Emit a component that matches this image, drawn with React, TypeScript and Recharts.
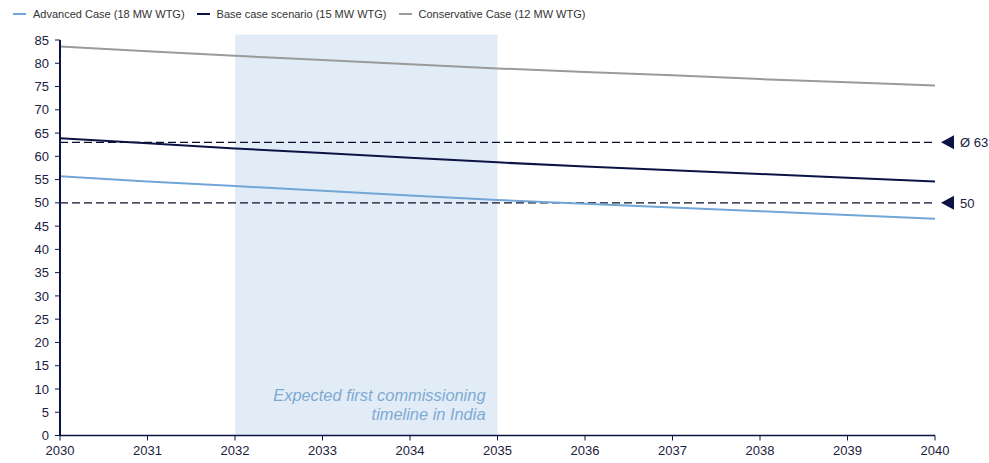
import React from "react";
import {
  LineChart,
  Line,
  XAxis,
  YAxis,
  ReferenceLine,
  ReferenceArea,
  Legend,
} from "recharts";

// Yearly values, 2030–2040
const years = [2030, 2031, 2032, 2033, 2034, 2035, 2036, 2037, 2038, 2039, 2040];
const advancedCase = [55.7, 54.6, 53.6, 52.6, 51.6, 50.6, 49.8, 49.0, 48.2, 47.4, 46.6];
const baseCase = [63.9, 62.8, 61.7, 60.7, 59.7, 58.7, 57.8, 57.0, 56.2, 55.4, 54.6];
const conservativeCase = [83.6, 82.6, 81.6, 80.7, 79.8, 78.9, 78.1, 77.4, 76.6, 75.9, 75.2];

const yTicks = [0, 5, 10, 15, 20, 25, 30, 35, 40, 45, 50, 55, 60, 65, 70, 75, 80, 85];

const averageLevel = 63;
const targetLevel = 50;
const commissioningStart = 2032;
const commissioningEnd = 2035;
const commissioningTop = 86.2;

const seriesNames = [
  "Advanced Case (18 MW WTG)",
  "Base case scenario (15 MW WTG)",
  "Conservative Case (12 MW WTG)",
];

const NAVY = "#0b1444";
const LIGHT_BLUE = "#72a6d6";
const GREY = "#9a9a9a";
const FONT = "'Liberation Sans', Arial, Helvetica, sans-serif";

const data = years.map((year, i) => ({
  year,
  advanced: advancedCase[i],
  base: baseCase[i],
  conservative: conservativeCase[i],
}));

const EndMarker = (props: any) => {
  const { viewBox, text } = props;
  const x = viewBox.x + viewBox.width;
  const y = viewBox.y;
  return (
    <g>
      <polygon
        points={`${x + 6},${y} ${x + 19},${y - 7} ${x + 19},${y + 7}`}
        fill={NAVY}
      />
      <text
        x={x + 25}
        y={y}
        dy={4.7}
        fontSize={13}
        fontFamily={FONT}
        fill="#1b2140"
      >
        {text}
      </text>
    </g>
  );
};

const AreaNote = (props: any) => {
  const { viewBox } = props;
  const right = viewBox.x + viewBox.width - 12;
  const bottom = viewBox.y + viewBox.height;
  return (
    <g
      fontFamily={FONT}
      fontSize={16.4}
      fontStyle="italic"
      fill="#7eaad3"
      textAnchor="end"
    >
      <text x={right} y={bottom - 35}>
        Expected first commissioning
      </text>
      <text x={right} y={bottom - 16}>
        timeline in India
      </text>
    </g>
  );
};

const LegendContent = (props: any) => {
  const { payload } = props;
  return (
    <div
      style={{
        display: "flex",
        alignItems: "center",
        height: 28,
        paddingLeft: 13,
        fontFamily: FONT,
        fontSize: 11,
        color: "#333",
      }}
    >
      {(payload || []).map((entry: any, i: number) => (
        <div
          key={i}
          style={{ display: "flex", alignItems: "center", marginRight: 12 }}
        >
          <span
            style={{
              display: "inline-block",
              width: 13,
              height: 2,
              background: entry.color,
              marginRight: 7,
            }}
          />
          <span>{entry.value}</span>
        </div>
      ))}
    </div>
  );
};

export default function App() {
  return (
    <div style={{ position: "absolute", left: 0, top: 0, background: "#fff" }}>
      <LineChart
        width={989}
        height={463}
        data={data}
        margin={{ top: 12, right: 54, bottom: 0, left: 0 }}
      >
        <Legend
          verticalAlign="top"
          align="left"
          content={<LegendContent />}
          wrapperStyle={{ left: 0, top: 0, width: 989, height: 28 }}
        />
        <ReferenceArea
          x1={commissioningStart}
          x2={commissioningEnd}
          y1={0}
          y2={commissioningTop}
          fill="#e2ecf6"
          fillOpacity={1}
          stroke="none"
          ifOverflow="visible"
          label={<AreaNote />}
        />
        <XAxis
          dataKey="year"
          type="number"
          domain={[2030, 2040]}
          ticks={years}
          height={27.5}
          tickSize={5}
          tickMargin={5}
          axisLine={{ stroke: NAVY, strokeWidth: 1.5 }}
          tickLine={{ stroke: NAVY }}
          tick={{ fontSize: 13, fill: "#1b2140", fontFamily: FONT }}
        />
        <YAxis
          type="number"
          domain={[0, 85]}
          ticks={yTicks}
          width={60}
          tickSize={5}
          tickMargin={6}
          interval={0}
          axisLine={{ stroke: NAVY, strokeWidth: 2 }}
          tickLine={{ stroke: NAVY }}
          tick={{ fontSize: 13, fill: "#1b2140", fontFamily: FONT }}
        />
        <ReferenceLine
          y={averageLevel}
          stroke="#0a0f2e"
          strokeWidth={1.2}
          strokeDasharray="8 4"
          label={<EndMarker text={`Ø ${averageLevel}`} />}
        />
        <ReferenceLine
          y={targetLevel}
          stroke="#0a0f2e"
          strokeWidth={1.2}
          strokeDasharray="8 4"
          label={<EndMarker text={`${targetLevel}`} />}
        />
        <Line
          type="linear"
          dataKey="advanced"
          name={seriesNames[0]}
          stroke={LIGHT_BLUE}
          strokeWidth={2}
          dot={false}
          isAnimationActive={false}
        />
        <Line
          type="linear"
          dataKey="base"
          name={seriesNames[1]}
          stroke={NAVY}
          strokeWidth={2}
          dot={false}
          isAnimationActive={false}
        />
        <Line
          type="linear"
          dataKey="conservative"
          name={seriesNames[2]}
          stroke={GREY}
          strokeWidth={2}
          dot={false}
          isAnimationActive={false}
        />
      </LineChart>
    </div>
  );
}
